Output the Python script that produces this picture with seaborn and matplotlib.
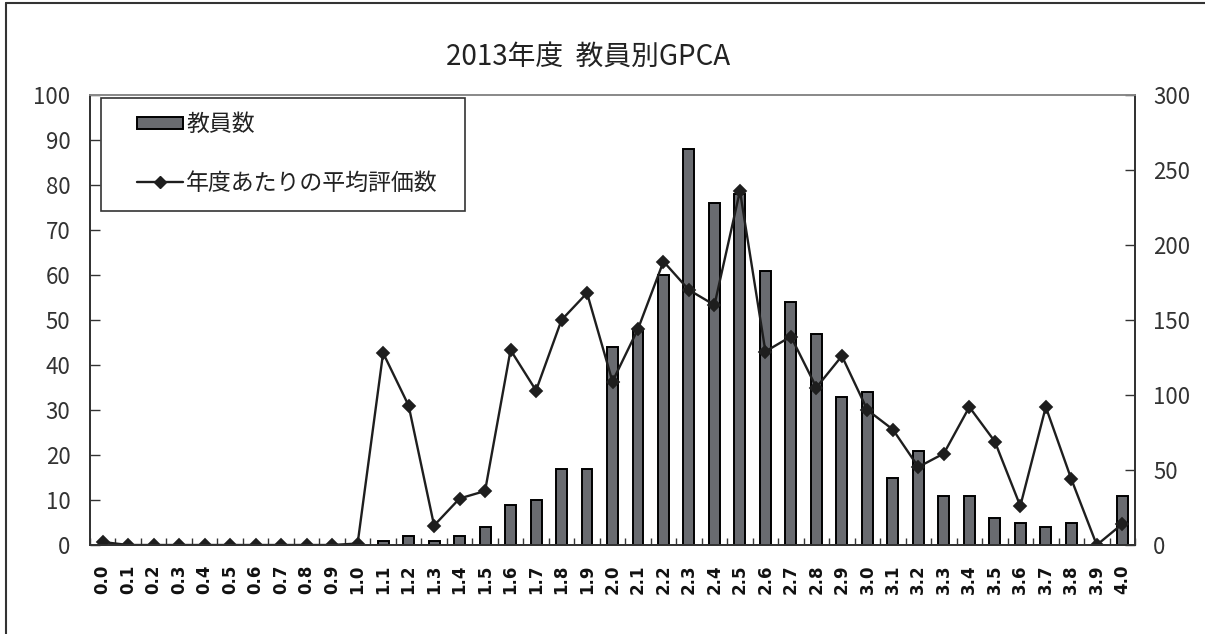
import numpy as np
import pandas as pd
import matplotlib
matplotlib.use("Agg")
import matplotlib.pyplot as plt
from matplotlib.lines import Line2D
from matplotlib.patches import Patch, Rectangle
from matplotlib.ticker import FixedLocator
import seaborn as sns

# ---- data ----
gpca_labels = ["0.0", "0.1", "0.2", "0.3", "0.4", "0.5", "0.6", "0.7", "0.8", "0.9",
               "1.0", "1.1", "1.2", "1.3", "1.4", "1.5", "1.6", "1.7", "1.8", "1.9",
               "2.0", "2.1", "2.2", "2.3", "2.4", "2.5", "2.6", "2.7", "2.8", "2.9",
               "3.0", "3.1", "3.2", "3.3", "3.4", "3.5", "3.6", "3.7", "3.8", "3.9",
               "4.0"]
teacher_counts = [0, 0, 0, 0, 0, 0, 0, 0, 0, 0,
                  0, 1, 2, 1, 2, 4, 9, 10, 17, 17,
                  44, 48, 60, 88, 76, 78, 61, 54, 47, 33,
                  34, 15, 21, 11, 11, 6, 5, 4, 5, 0,
                  11]
avg_evaluations = [2, 0, 0, 0, 0, 0, 0, 0, 0, 0,
                   1, 128, 93, 13, 31, 36, 130, 103, 150, 168,
                   109, 144, 189, 170, 160, 236, 129, 139, 105, 126,
                   90, 77, 52, 61, 92, 69, 26, 92, 44, 0,
                   14]
title_text = "2013年度  教員別GPCA"
bar_label = "教員数"
line_label = "年度あたりの平均評価数"
left_ticks = [0, 10, 20, 30, 40, 50, 60, 70, 80, 90, 100]
right_ticks = [0, 50, 100, 150, 200, 250, 300]

df = pd.DataFrame({"gpca": gpca_labels, "teachers": teacher_counts, "avg": avg_evaluations})

# ---- style ----
sns.set_style("white")
plt.rcParams["font.family"] = ["Noto Sans CJK JP", "DejaVu Sans"]

BAR_COLOR = "#696b70"
LINE_COLOR = "#1e1e1e"
W, H = 1205, 634

fig = plt.figure(figsize=(W / 100, H / 100), dpi=100)
AX_L, AX_R, AX_T, AX_B = 90, 1135, 95, 545
ax = fig.add_axes([AX_L / W, 1 - AX_B / H, (AX_R - AX_L) / W, (AX_B - AX_T) / H])

sns.barplot(data=df, x="gpca", y="teachers", ax=ax, color=BAR_COLOR, saturation=1,
            edgecolor="black", linewidth=1.4, width=0.43, errorbar=None)

ax2 = ax.twinx()
sns.pointplot(data=df, x="gpca", y="avg", ax=ax2, color=LINE_COLOR, markers="D",
              markersize=6.5, linewidth=1.7, errorbar=None)

n = len(gpca_labels)
ax.set_xlim(-0.5, n - 0.5)
ax.set_ylim(0, 100)
ax2.set_ylim(0, 300)
for a in (ax, ax2):
    a.set_xlabel("")
    a.set_ylabel("")

ax.set_yticks(left_ticks)
ax.set_yticklabels([str(v) for v in left_ticks])
ax2.set_yticks(right_ticks)
ax2.set_yticklabels([str(v) for v in right_ticks])

# x ticks: labels at centers, small inward ticks at category boundaries
ax.xaxis.set_major_locator(FixedLocator(np.arange(n)))
ax.set_xticklabels(gpca_labels, rotation=90, fontsize=12, fontweight="bold",
                   family=["DejaVu Sans"], color="#111111")
ax.xaxis.set_minor_locator(FixedLocator(np.arange(n + 1) - 0.5))
ax.tick_params(axis="x", which="major", length=0, pad=14)
ax.tick_params(axis="x", which="minor", direction="in", length=5, width=1, color="#333333",
               bottom=True)

ax.tick_params(axis="y", which="major", direction="in", length=7, width=1, color="#333333",
               labelsize=16, labelcolor="#333333", pad=14, left=True)
ax2.tick_params(axis="y", which="major", direction="in", length=7, width=1, color="#333333",
                labelsize=16, labelcolor="#333333", pad=13, right=True)

for a in (ax, ax2):
    for side, sp in a.spines.items():
        sp.set_visible(True)
        sp.set_linewidth(1.3)
        sp.set_color("#333333")
    a.spines["top"].set_color("#8a8a8a")
    a.grid(False)

# legend: frame drawn as a rectangle, entries placed inside
def ax_frac(px, py):
    return ((px - AX_L) / (AX_R - AX_L), (AX_B - py) / (AX_B - AX_T))

x0, y0 = ax_frac(101, 211)
x1, y1 = ax_frac(465, 98)
ax2.add_patch(Rectangle((x0, y0), x1 - x0, y1 - y0, transform=ax2.transAxes,
                        facecolor="white", edgecolor="#333333", linewidth=1.2, zorder=5))

handles = [
    Patch(facecolor=BAR_COLOR, edgecolor="black", linewidth=1.4),
    Line2D([], [], color=LINE_COLOR, linewidth=1.7, marker="D", markersize=6.5),
]
leg = ax2.legend(handles, [bar_label, line_label], loc="upper left",
                 bbox_to_anchor=ax_frac(137, 113),
                 borderaxespad=0, frameon=False, fontsize=16.5,
                 handlelength=2.0, handleheight=0.45, handletextpad=0.15,
                 labelspacing=1.55, borderpad=0, numpoints=1)
leg.set_zorder(6)
for t in leg.get_texts():
    t.set_color("#222222")

fig.text(588 / W, 1 - 57 / H, title_text, ha="center", va="center",
         fontsize=20, color="#222222")

# outer border (left and top)
fig.add_artist(Line2D([6 / W, 6 / W], [0, 1 - 3 / H], color="#333333", linewidth=1.5,
                      transform=fig.transFigure))
fig.add_artist(Line2D([6 / W, 1], [1 - 3 / H, 1 - 3 / H], color="#333333", linewidth=1.5,
                      transform=fig.transFigure))

fig.savefig("out.png", dpi=100)
